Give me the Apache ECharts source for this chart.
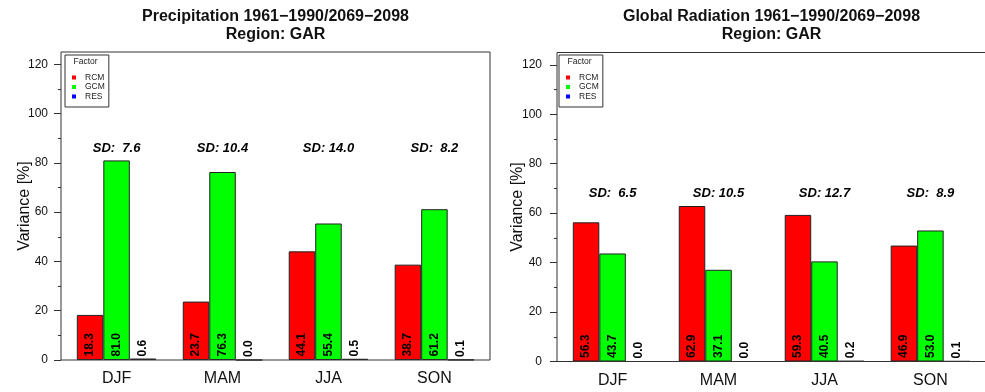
<!DOCTYPE html>
<html><head><meta charset="utf-8">
<script src="https://cdn.jsdelivr.net/npm/echarts@6/dist/echarts.min.js"></script>
<style>html,body{margin:0;padding:0;background:#fff}#c{width:985px;height:392px}</style>
</head><body><div id="c"></div>
<script>
const categories = ['DJF', 'MAM', 'JJA', 'SON'];
const seriesNames = ['RCM', 'GCM', 'RES'];
const seriesColors = ['#ff0000', '#00ff00', '#0000ff'];

const precipTitle = 'Precipitation 1961\u22121990/2069\u22122098\nRegion: GAR';
const precipRCM = [18.3, 23.7, 44.1, 38.7];
const precipGCM = [81.0, 76.3, 55.4, 61.2];
const precipRES = [0.6, 0.0, 0.5, 0.1];
const precipSD = [7.6, 10.4, 14.0, 8.2];

const radTitle = 'Global Radiation 1961\u22121990/2069\u22122098\nRegion: GAR';
const radRCM = [56.3, 62.9, 59.3, 46.9];
const radGCM = [43.7, 37.1, 40.5, 53.0];
const radRES = [0.0, 0.0, 0.2, 0.1];
const radSD = [6.5, 10.5, 12.7, 8.9];

const yTicks = [0, 20, 40, 60, 80, 100, 120];
const yMinorTicks = [10, 30, 50, 70, 90, 110];
const yAxisName = 'Variance [%]';
const legendTitle = 'Factor';

const FONT = '"Liberation Sans", Arial, Helvetica, sans-serif';

const panels = [
  { title: precipTitle, values: [precipRCM, precipGCM, precipRES], sd: precipSD,
    box: { x: 61, y: 52, w: 429, h: 308 }, labelMargin: 13, nameGap: 28, legendLeft: 65 },
  { title: radTitle, values: [radRCM, radGCM, radRES], sd: radSD,
    box: { x: 557, y: 52.5, w: 429, h: 309 }, labelMargin: 15, nameGap: 31, legendLeft: 559 }
];

const inset = 2.6;
const option = {
  backgroundColor: '#fff',
  animation: false,
  textStyle: { fontFamily: FONT },
  title: [], grid: [], xAxis: [], yAxis: [], series: [], legend: [], graphic: []
};

panels.forEach((p, i) => {
  const b = p.box;
  option.title.push({
    text: p.title, left: b.x + b.w / 2, top: 8, textAlign: 'center', padding: 0,
    textStyle: { fontFamily: FONT, fontSize: 16, fontWeight: 'bold', lineHeight: 18, color: '#111' }
  });
  option.grid.push({ left: b.x + inset, top: b.y, width: b.w - 2 * inset, height: b.h });
  option.xAxis.push({
    type: 'category', gridIndex: i, data: categories,
    axisLine: { show: false }, axisTick: { show: false },
    axisLabel: { fontSize: 16, color: '#111', margin: 11, fontFamily: FONT }
  });
  option.yAxis.push({
    type: 'value', gridIndex: i, position: 'left', min: 0, max: 125, offset: inset,
    axisLine: { show: false }, splitLine: { show: false },
    axisTick: { show: true, length: 7, customValues: yTicks, lineStyle: { color: '#333' } },
    axisLabel: { customValues: yTicks, margin: p.labelMargin, fontSize: 12, color: '#111', fontFamily: FONT },
    name: yAxisName, nameLocation: 'middle', nameGap: p.nameGap, nameMoveOverlap: false,
    nameTextStyle: { fontSize: 16, color: '#111', fontFamily: FONT }
  });
  option.yAxis.push({
    type: 'value', gridIndex: i, position: 'left', min: 0, max: 125, offset: inset,
    axisLine: { show: false }, splitLine: { show: false }, axisLabel: { show: false },
    axisTick: { show: true, length: 3, customValues: yMinorTicks, lineStyle: { color: '#333' } }
  });
  seriesNames.forEach((n, k) => {
    option.series.push({
      type: 'bar', name: n, xAxisIndex: i, yAxisIndex: 2 * i, data: p.values[k],
      barWidth: 26.5, barGap: '0%',
      itemStyle: { color: seriesColors[k], borderColor: '#222', borderWidth: 1 },
      label: {
        show: true, position: 'insideBottom', rotate: 90, align: 'left', verticalAlign: 'middle',
        distance: 3.5, fontSize: 12, fontWeight: 'bold', color: '#000', fontFamily: FONT,
        formatter: (d) => d.value.toFixed(1)
      },
      silent: true
    });
  });
  const all = [].concat(...p.values);
  const sdY = Math.max(...all) + 5;
  option.series.push({
    type: 'scatter', xAxisIndex: i, yAxisIndex: 2 * i,
    data: p.sd.map((v, k) => [k, sdY, v]),
    symbolSize: 1, itemStyle: { color: 'rgba(255,255,255,0)' }, silent: true,
    label: {
      show: true, position: 'inside', fontSize: 13, fontWeight: 'bold', fontStyle: 'italic',
      color: '#000', opacity: 1, fontFamily: FONT,
      formatter: (d) => 'SD: ' + (d.data[2] < 10 ? ' ' : '') + d.data[2].toFixed(1)
    }
  });
  option.legend.push({
    left: p.legendLeft, top: 55, orient: 'vertical', data: seriesNames, icon: 'rect',
    itemWidth: 4, itemHeight: 4, itemGap: 0.5, padding: [18, 4, 6, 7],
    borderColor: '#333', borderWidth: 1, selectedMode: false,
    itemStyle: { borderWidth: 0 },
    textStyle: { fontSize: 8.5, lineHeight: 8, padding: [0, 0, 0, 4], color: '#222', fontFamily: FONT }
  });
  option.graphic.push({
    type: 'rect', shape: { x: b.x, y: b.y, width: b.w, height: b.h },
    style: { fill: 'none', stroke: '#333', lineWidth: 1 }, silent: true, z: 10
  });
  option.graphic.push({
    type: 'text', x: p.legendLeft + 20.5, y: 62,
    style: { text: legendTitle, fill: '#222', align: 'center', verticalAlign: 'middle', font: '8.5px ' + FONT },
    silent: true, z: 10
  });
});

const chart = echarts.init(document.getElementById('c'), null, { renderer: 'canvas' });
chart.setOption(option);
</script>
</body></html>
